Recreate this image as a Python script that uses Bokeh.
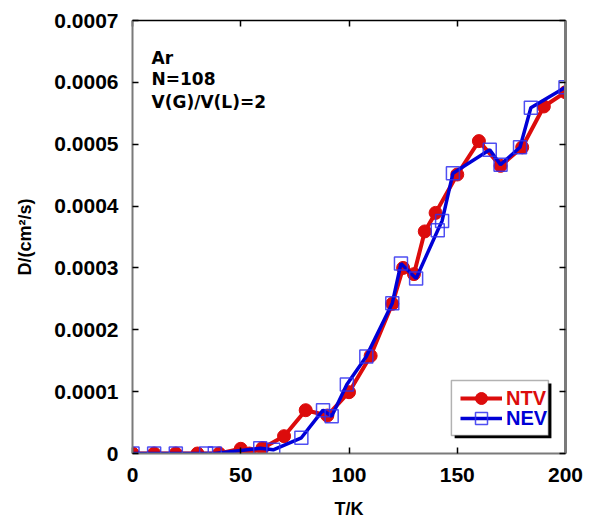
from bokeh.plotting import figure
from bokeh.models import (Range1d, LinearAxis, FixedTicker, Label, Legend, LegendItem,
                          BoxAnnotation)
from bokeh.embed import file_html
from bokeh.resources import INLINE

# ---- data ----
ntv_T = [0, 10, 20, 30, 40, 50, 54, 60, 70, 80, 90, 100, 110, 120, 125, 130, 135, 140,
         150, 160, 170, 180, 190, 200]
ntv_D = [0, 0, 0, 0, 0, 0.0000076, 0.0, 0.0000086, 0.0000280, 0.0000700, 0.0000614,
         0.0000991, 0.0001580, 0.0002420, 0.0003000, 0.0002900, 0.0003590, 0.0003890,
         0.0004510, 0.0005050, 0.0004650, 0.0004950, 0.0005610, 0.0005840]

nev_T = [0, 10, 20, 34, 38, 59, 65, 78, 88, 92, 99, 108, 120, 124, 131, 141, 143, 148,
         165, 170, 179, 184, 200]
nev_D = [0, 0, 0, 0, 0, 0.0000086, 0.0000060, 0.0000254, 0.0000700, 0.0000603, 0.0001115,
         0.0001570, 0.0002430, 0.0003070, 0.0002830, 0.0003610, 0.0003760, 0.0004530,
         0.0004910, 0.0004670, 0.0004950, 0.0005590, 0.0005920]

x_ticks = [0, 50, 100, 150, 200]
y_ticks = [0, 0.0001, 0.0002, 0.0003, 0.0004, 0.0005, 0.0006, 0.0007]
y_tick_labels = ["0", "0.0001", "0.0002", "0.0003", "0.0004", "0.0005", "0.0006", "0.0007"]

annotation_lines = ["Ar", "N=108", "V(G)/V(L)=2"]
annotation_y = [0.000640, 0.000605, 0.000569]

RED = "#dc0c0c"
BLUE = "#0000d6"
FONT = "Liberation Sans"

W, H = 585, 526
p = figure(width=W, height=H, output_backend="svg", toolbar_location=None,
           x_range=Range1d(0, 200), y_range=Range1d(0, 0.0007),
           min_border_left=132, min_border_right=W - 565, min_border_top=20,
           min_border_bottom=H - 453, x_axis_location="below", y_axis_location="left")
p.grid.visible = False
p.outline_line_color = None
p.background_fill_color = "white"

# main axes
for ax in (p.xaxis[0], p.yaxis[0]):
    ax.axis_line_color = "#7a7a7a"
    ax.axis_line_width = 2
    ax.major_tick_in = 6
    ax.major_tick_out = 0
    ax.major_tick_line_color = "black"
    ax.major_tick_line_width = 1.5
    ax.minor_tick_line_color = None
    ax.major_label_text_font = FONT
    ax.major_label_text_font_style = "bold"
    ax.major_label_text_font_size = "21px"
    ax.major_label_text_color = "black"
    ax.axis_label_text_font = FONT
    ax.axis_label_text_font_style = "bold"
    ax.axis_label_text_font_size = "18px"
    ax.axis_label_text_color = "black"

p.xaxis[0].ticker = FixedTicker(ticks=x_ticks)
p.yaxis[0].ticker = FixedTicker(ticks=y_ticks)
p.yaxis[0].major_label_overrides = dict(zip(y_ticks, y_tick_labels))
p.yaxis[0].axis_label = "D/(cm\u00b2/s)"
p.yaxis[0].major_label_standoff = 14
p.yaxis[0].axis_label_standoff = 16
p.xaxis[0].axis_label = "T/K"
p.xaxis[0].major_label_standoff = 14
p.xaxis[0].axis_label_standoff = 14

# top and right frame axes (ticks only, labels not painted)
top = LinearAxis(ticker=FixedTicker(ticks=x_ticks), axis_line_color="black",
                 axis_line_width=1.5, major_tick_in=6, major_tick_out=0,
                 major_tick_line_color="black", major_tick_line_width=1.5,
                 minor_tick_line_color=None, major_label_text_font_size="1px",
                 major_label_text_color=None, major_label_standoff=0)
right = LinearAxis(ticker=FixedTicker(ticks=y_ticks), axis_line_color="#7a7a7a",
                   axis_line_width=3, major_tick_in=6, major_tick_out=0,
                   major_tick_line_color="black", major_tick_line_width=1.5,
                   minor_tick_line_color=None, major_label_text_font_size="1px",
                   major_label_text_color=None, major_label_standoff=0)
p.add_layout(top, "above")
p.add_layout(right, "right")

# series
r_line = p.line(ntv_T, ntv_D, line_color=RED, line_width=4)
r_pts = p.scatter(ntv_T, ntv_D, marker="circle", size=13, fill_color=RED,
                  line_color=RED, line_width=1)
b_line = p.line(nev_T, nev_D, line_color=BLUE, line_width=3.5)
b_pts = p.scatter(nev_T, nev_D, marker="square", size=13, fill_color=None,
                  line_color="#3030f0", line_width=1.5, line_alpha=0.85)

# annotation text
for txt, yy in zip(annotation_lines, annotation_y):
    p.add_layout(Label(x=8.8, y=yy, text=txt, text_font="DejaVu Sans",
                       text_font_style="bold", text_font_size="17px",
                       text_color="black", text_baseline="alphabetic"))

# legend box with shadow
p.add_layout(BoxAnnotation(left=148.8, right=193.5, top=0.0001130, bottom=0.0000245,
                           fill_color="black", fill_alpha=1, line_color=None))
p.add_layout(BoxAnnotation(left=147.3, right=192.1, top=0.0001180, bottom=0.0000291,
                           fill_color="white", fill_alpha=1, line_color="black",
                           line_width=1.5))

for label, rends, color, loc in (("NTV", [r_line, r_pts], RED, (328, 40)),
                                 ("NEV", [b_line, b_pts], BLUE, (328, 20))):
    lg = Legend(items=[LegendItem(label=label, renderers=rends)], location=loc,
                glyph_width=42, glyph_height=30, label_height=20, label_standoff=4,
                padding=0, margin=0, spacing=0, border_line_color=None,
                background_fill_alpha=0, label_text_font=FONT,
                label_text_font_style="bold", label_text_font_size="20px",
                label_text_color=color)
    p.add_layout(lg, "center")

open("out.html", "w").write(file_html(p, INLINE))
